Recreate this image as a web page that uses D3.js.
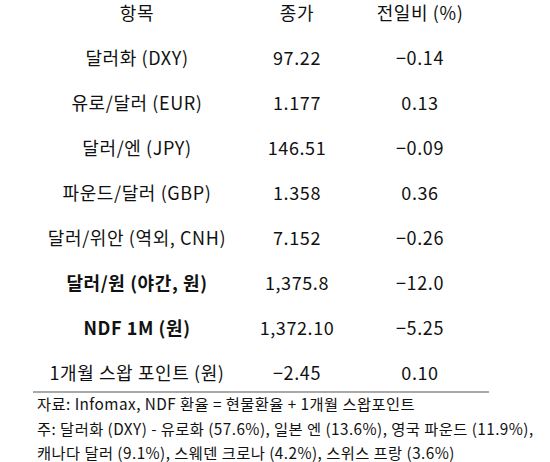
<!DOCTYPE html><html><head><meta charset="utf-8">
<script src="https://d3js.org/d3.v7.min.js"></script>
<style>body{margin:0;background:#fff}svg{font-family:"Noto Sans CJK KR","Noto Sans",sans-serif}</style></head><body>
<script>
const headers=["항목","종가","전일비 (%)"];
const items=["달러화 (DXY)","유로/달러 (EUR)","달러/엔 (JPY)","파운드/달러 (GBP)","달러/위안 (역외, CNH)","달러/원 (야간, 원)","NDF 1M (원)","1개월 스왑 포인트 (원)"];
const closes=["97.22","1.177","146.51","1.358","7.152","1,375.8","1,372.10","\u22122.45"];
const changes=["\u22120.14","0.13","\u22120.09","0.36","\u22120.26","\u221212.0","\u22125.25","0.10"];
const boldRows=[5,6];
const notes=["자료: Infomax, NDF 환율 = 현물환율 + 1개월 스왑포인트","주: 달러화 (DXY) - 유로화 (57.6%), 일본 엔 (13.6%), 영국 파운드 (11.9%),","캐나다 달러 (9.1%), 스웨덴 크로나 (4.2%), 스위스 프랑 (3.6%)"];

const svg=d3.select("body").append("svg").attr("width",550).attr("height",462);
const xc=[137,297,420];
const y=d3.scalePoint().domain(d3.range(9)).range([14,374]);
svg.selectAll("text.h").data(headers).join("text").attr("x",(d,i)=>xc[i]).attr("y",y(0)).attr("dy","0.35em")
 .attr("text-anchor","middle").attr("font-size",18).attr("letter-spacing",0.6).attr("fill","#111").text(d=>d);
const rows=items.map((d,i)=>[d,closes[i],changes[i]]);
rows.forEach((r,i)=>{
 svg.selectAll(null).data(r).join("text").attr("x",(d,j)=>xc[j]).attr("y",y(i+1)).attr("dy","0.35em")
  .attr("text-anchor","middle").attr("font-size",18).attr("letter-spacing",0.6).attr("fill","#111")
  .attr("font-weight",(d,j)=>boldRows.includes(i)&&j===0?"bold":"normal").text(d=>d);
});
svg.append("line").attr("x1",33).attr("x2",489).attr("y1",392).attr("y2",392).attr("stroke","#aaa").attr("stroke-width",2);
svg.selectAll("text.n").data(notes).join("text").attr("x",37).attr("y",(d,i)=>405+i*24.5).attr("dy","0.35em")
 .attr("font-size",15.3).attr("letter-spacing",0.45).attr("fill","#111").text(d=>d);
</script></body></html>
